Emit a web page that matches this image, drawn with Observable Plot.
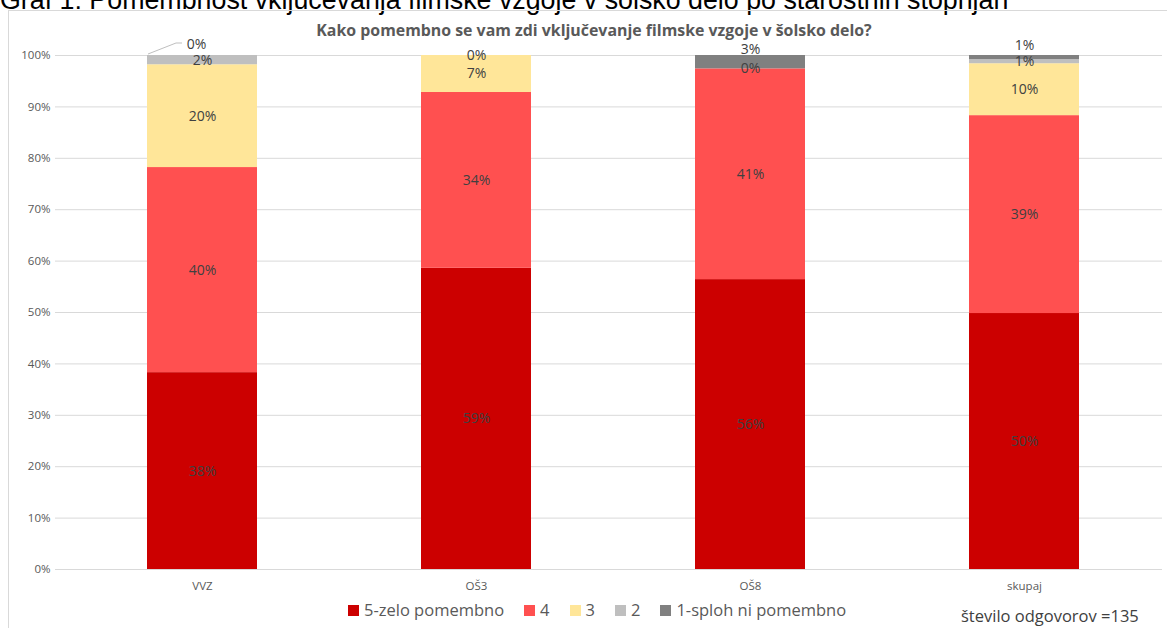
<!DOCTYPE html>
<html>
<head>
<meta charset="utf-8">
<script src="https://cdn.jsdelivr.net/npm/d3@7"></script>
<script src="https://cdn.jsdelivr.net/npm/@observablehq/plot@0.6"></script>
<style>
  html, body { margin: 0; padding: 0; background: #fff; overflow: hidden; }
  body { width: 1167px; height: 628px; position: relative; font-family: "Open Sans", sans-serif; }
  #caption { position: absolute; left: 0; top: -13px; font-family: "Liberation Sans", Arial, sans-serif; font-size: 26.8px; line-height: 27px; color: #000; white-space: nowrap; }
  #frame { position: absolute; left: 8px; top: 10px; width: 1170px; height: 640px; border: 1px solid #d9d9d9; box-sizing: border-box; }
  #title { position: absolute; left: 0; width: 1188px; top: 19px; text-align: center; font-weight: 700; font-size: 15.9px; color: #595959; white-space: nowrap; }
  #chart { position: absolute; left: 0; top: 0; }
  #legend { position: absolute; left: 348px; top: 599px; display: flex; align-items: center; font-size: 16.5px; line-height: 22px; color: #595959; white-space: nowrap; }
  #legend .item { display: flex; align-items: center; margin-right: 20px; }
  #legend .sw { width: 11px; height: 11px; margin-right: 5px; }
  #note { position: absolute; left: 961px; top: 605px; font-size: 16.5px; line-height: 22px; color: #404040; white-space: nowrap; }
</style>
</head>
<body>
<div id="caption">Graf 1: Pomembnost vključevanja filmske vzgoje v šolsko delo po starostnih stopnjah</div>
<div id="frame"></div>
<div id="chart"></div>
<div id="title">Kako pomembno se vam zdi vključevanje filmske vzgoje v šolsko delo?</div>
<div id="legend"></div>
<div id="note">število odgovorov =135</div>
<script>
// ---- data ----
const categories = ["VVZ", "OŠ3", "OŠ8", "skupaj"];
const seriesNames = ["5-zelo pomembno", "4", "3", "2", "1-sploh ni pomembno"];
const seriesColors = ["#CC0000", "#FF5050", "#FFE699", "#BFBFBF", "#808080"];
const s5 = [38.3, 58.6, 56.4, 49.8];
const s4 = [39.9, 34.2, 41.0, 38.5];
const s3 = [20.0, 7.2, 0.0, 10.1];
const s2 = [1.8, 0.0, 0.0, 0.8];
const s1 = [0.0, 0.0, 2.6, 0.8];
const yTicks = [0, 10, 20, 30, 40, 50, 60, 70, 80, 90, 100];

// label nudges (styling) and hidden duplicate zero labels
const labelNudge = {
  "VVZ|1-sploh ni pomembno": {dx: -6, dy: -11},
  "OŠ8|1-sploh ni pomembno": {dx: 0, dy: -13},
  "skupaj|1-sploh ni pomembno": {dx: 0, dy: -12}
};
const hiddenLabels = new Set(["OŠ3|1-sploh ni pomembno", "OŠ8|2"]);

const seriesValues = [s5, s4, s3, s2, s1];
const rows = [];
categories.forEach((c, i) => {
  let base = 0;
  seriesNames.forEach((s, k) => {
    const v = seriesValues[k][i];
    rows.push({cat: c, series: s, value: v, y1: base, y2: base + v, mid: base + v / 2});
    base += v;
  });
});
const labels = rows.filter(d => !hiddenLabels.has(d.cat + "|" + d.series));

const labelGroups = d3.groups(labels, d => (labelNudge[d.cat + "|" + d.series] ? d.cat + "|" + d.series : "plain"));

const labelMarks = labelGroups.map(([key, arr]) => {
  const n = labelNudge[key] || {dx: 0, dy: 0};
  return Plot.text(arr, {
    x: "cat", y: "mid", text: d => Math.round(d.value) + "%",
    dx: n.dx, dy: n.dy, fill: "#404040", fontSize: 14, fontFamily: "Open Sans"
  });
});

// leader line for VVZ zero label
function leader(index, scales) {
  const x0 = scales.x("VVZ");
  const y0 = scales.y(100);
  return d3.create("svg:path")
    .attr("d", `M${x0 + 1},${y0 - 1} L${x0 + 29},${y0 - 12} L${x0 + 35},${y0 - 12}`)
    .attr("fill", "none").attr("stroke", "#bfbfbf").attr("stroke-width", 1).node();
}

const chart = Plot.plot({
  width: 1167,
  height: 600,
  marginTop: 55,
  marginBottom: 31,
  marginLeft: 55,
  marginRight: 5,
  style: {fontFamily: "Open Sans", fontSize: "11.5px", color: "#595959", background: "transparent"},
  x: {domain: categories, range: [63.5, 1162.5], paddingInner: 0.6, paddingOuter: 0.3, label: null},
  y: {domain: [0, 100], label: null},
  color: {domain: seriesNames, range: seriesColors},
  marks: [
    Plot.ruleY(yTicks, {stroke: "#d9d9d9", strokeWidth: 1}),
    Plot.barY(rows, {x: "cat", y1: "y1", y2: "y2", fill: "series"}),
    ...labelMarks,
    leader,
    Plot.axisY(yTicks, {tickSize: 0, tickPadding: 5, tickFormat: d => d + "%", fill: "#595959", fontSize: 11.5}),
    Plot.axisX({tickSize: 0, tickPadding: 12, fill: "#595959", fontSize: 11.5})
  ]
});
document.getElementById("chart").appendChild(chart);

const legend = d3.select("#legend");
seriesNames.forEach((s, k) => {
  const it = legend.append("div").attr("class", "item");
  it.append("div").attr("class", "sw").style("background", seriesColors[k]);
  it.append("span").text(s);
});
</script>
</body>
</html>
